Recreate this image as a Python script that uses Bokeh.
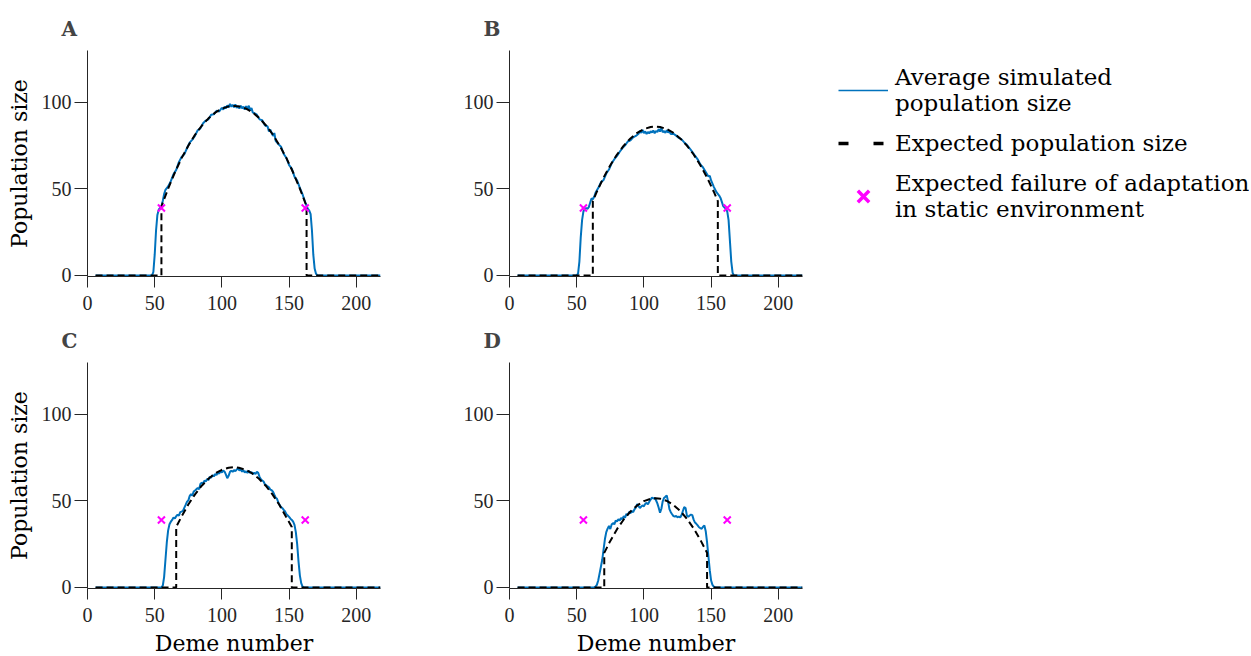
from bokeh.plotting import figure
from bokeh.layouts import row, column
from bokeh.models import Range1d, FixedTicker, Legend, LegendItem
from bokeh.embed import file_html
from bokeh.resources import INLINE

BLUE = "#0072BD"
MAGENTA = "#FF00FF"
INK = "#262626"
SERIF = "DejaVu Serif"
TICK_FONT = "Liberation Serif"

deme_ticks = [0, 50, 100, 150, 200]
pop_ticks = [0, 50, 100]

# demes where adaptation is expected to fail in a static environment
fail_x = [55, 162]
fail_y = [39, 39]

# (deme, mean simulated population size)
sim_a = [(6, 0), (48, 0), (49, 2), (50, 12), (51, 26), (52, 35), (53, 38), (54, 39), (55, 40),
         (56, 43), (57, 47), (58, 49.5), (60, 51.5), (62, 54.5), (64, 58.5), (66, 61), (68, 65.5),
         (70, 68.5), (72, 70), (74, 73.5), (76, 76.8), (78, 78.5), (80, 80.8), (82, 83.9), (84, 85),
         (86, 88), (88, 89.5), (90, 90.2), (92, 92.9), (94, 93.1), (96, 95.2), (98, 94.8),
         (100, 96.9), (101, 95.8), (102, 97.6), (103, 96.5), (104, 98.3), (105, 97.1), (106, 99.2),
         (107, 97.5), (108, 98.6), (109, 97.2), (110, 98.8), (111, 96.9), (112, 97.9), (113, 96.4),
         (114, 98.1), (115, 96.6), (116, 97.5), (117, 95.8), (118, 97.9), (119, 95.9), (120, 98.1),
         (121, 95.3), (122, 96.8), (123, 94.1), (124, 93.9), (126, 92.9), (128, 90.2), (130, 89.7),
         (132, 86.8), (134, 86.1), (135, 83.2), (136, 84.3), (138, 80.6), (139, 82.3), (140, 77.8),
         (142, 75.9), (144, 74.4), (146, 70.2), (148, 67.9), (150, 63.8), (152, 61.7), (154, 57.1),
         (156, 54.8), (158, 50.6), (160, 46.9), (161, 44.5), (162, 42.3), (163, 40.2), (164, 38.5),
         (165, 37.5), (166, 35.5), (167, 26), (168, 12), (169, 4), (170, 1), (171, 0), (218, 0)]

sim_b = [(6, 0), (50, 0), (51, 1), (52, 8), (53, 22), (54, 32), (55, 37), (56, 38.5), (57, 39),
         (58, 38.5), (59, 39.5), (60, 42), (61, 44.5), (62, 44), (63, 45.5), (64, 47.8), (66, 50.5),
         (68, 53.8), (70, 55.2), (72, 58.9), (74, 61.2), (76, 64.8), (78, 67.2), (80, 69.1),
         (82, 71.5), (84, 73.6), (86, 75.2), (88, 77.4), (90, 78.1), (92, 79.8), (94, 80.6),
         (96, 81.9), (97, 83.5), (98, 82.4), (99, 84.1), (100, 82.3), (101, 83.2), (102, 81.8),
         (103, 82.9), (104, 82.1), (105, 83.4), (106, 82.6), (107, 83.8), (108, 82.2), (109, 83.5),
         (110, 82.9), (111, 84.6), (112, 83.1), (113, 85.2), (114, 82.8), (115, 83.5), (116, 82.4),
         (117, 83.9), (118, 82.7), (119, 83.1), (120, 81.8), (122, 81.9), (124, 80.8), (126, 79.5),
         (128, 78.6), (130, 76.9), (132, 75.5), (134, 73.5), (136, 71.4), (138, 69.2), (140, 67.1),
         (142, 64.2), (144, 62.4), (146, 59.8), (148, 57.2), (149, 57.6), (150, 54.9), (152, 51.2),
         (154, 48.1), (156, 46.2), (157, 44.8), (158, 42.5), (159, 40.1), (160, 39.2), (161, 38.5),
         (162, 37), (163, 32), (164, 20), (165, 8), (166, 1.5), (167, 0), (218, 0)]

sim_c = [(6, 0), (55, 0), (56, 1), (57, 6), (58, 16), (59, 26), (60, 33), (61, 36.5), (62, 38),
         (63, 39), (64, 40.5), (65, 39.8), (66, 41.2), (67, 42), (68, 41.5), (69, 43.5), (70, 43.8),
         (71, 44.2), (72, 46), (73, 47.7), (74, 49.5), (75, 50.2), (76, 52.8), (77, 53.9), (78, 53.1),
         (79, 55.4), (80, 56), (82, 57.5), (83, 56.8), (84, 59.8), (85, 60.6), (86, 59.9), (87, 61.8),
         (88, 61.2), (89, 62.7), (90, 62.1), (91, 64), (92, 63.4), (93, 64.9), (94, 64.2), (95, 65.5),
         (96, 65), (97, 66.4), (98, 65.8), (99, 67.2), (100, 66.5), (101, 67.6), (102, 66.9),
         (103, 65.2), (104, 63.1), (105, 64.5), (106, 66.8), (107, 67.5), (108, 66.8), (109, 67.9),
         (110, 67.2), (111, 68.1), (112, 68.9), (113, 67.6), (114, 68.4), (115, 66.9), (116, 67.8),
         (117, 66.4), (118, 67.1), (119, 66.2), (120, 67.5), (121, 66.1), (122, 66.7), (123, 65.5),
         (124, 66.3), (125, 65.6), (126, 66.8), (127, 66.2), (128, 63.9), (129, 62.5), (130, 61.8),
         (131, 61.2), (132, 59.6), (133, 59.1), (134, 58.4), (135, 57.9), (136, 56.6), (137, 56.2),
         (138, 55.4), (139, 53.6), (140, 51.9), (141, 51.2), (142, 49.1), (143, 47.6), (144, 46.5),
         (145, 45.8), (146, 44.8), (147, 43.9), (148, 42.4), (149, 41.6), (150, 40.8), (151, 39.8),
         (152, 39), (153, 38), (154, 36.2), (155, 32), (156, 25), (157, 15), (158, 7), (159, 2.5),
         (160, 0.5), (161, 0), (218, 0)]

sim_d = [(6, 0), (63, 0), (64, 0.5), (65, 1.5), (66, 4), (67, 8), (68, 12), (69, 16), (70, 22),
         (71, 28), (72, 32), (73, 34), (74, 35.5), (75, 33.8), (76, 36.4), (77, 37.2), (78, 36.5),
         (79, 38.6), (80, 38.2), (81, 39.4), (82, 38.7), (83, 40.1), (84, 39.5), (85, 41.2),
         (86, 40.3), (87, 42.5), (88, 41.8), (89, 43.6), (90, 42.9), (91, 44.1), (92, 43.5),
         (93, 45.2), (94, 46.1), (95, 48.2), (96, 47), (97, 45.9), (98, 46.8), (99, 47.4), (100, 46.9),
         (101, 48.3), (102, 48.9), (103, 48.1), (104, 49.5), (105, 50.8), (106, 51.9), (107, 51.4),
         (108, 51.8), (109, 50.4), (110, 48.6), (111, 46.1), (112, 43.2), (113, 45.5), (114, 49.8),
         (115, 51.7), (116, 52.4), (117, 53.2), (118, 49.6), (119, 45.3), (120, 43.5), (121, 42.3),
         (122, 41.2), (123, 40.9), (124, 41.3), (125, 40.6), (126, 40.9), (127, 40.5), (128, 41.8),
         (129, 44.2), (130, 46.4), (131, 45.9), (132, 41.5), (133, 40.8), (134, 41.6), (135, 42.1),
         (136, 41.8), (137, 39.2), (138, 37.5), (139, 36.8), (140, 35.9), (141, 34.8), (142, 34.3),
         (143, 33.9), (144, 35.1), (145, 35.8), (146, 32.5), (147, 26), (148, 18), (149, 10),
         (150, 4), (151, 1.5), (152, 0.5), (153, 0), (218, 0)]

# (deme, expected population size)
exp_a = [(6, 0), (55, 0), (55, 40), (60, 50.2), (65, 59.5), (70, 67.8), (75, 75.0), (80, 81.3),
         (85, 86.5), (90, 90.8), (95, 94.1), (100, 96.4), (105, 97.7), (109, 98), (113, 97.7),
         (118, 96.4), (123, 94.1), (128, 90.8), (133, 86.5), (138, 81.3), (143, 75.0), (148, 67.8),
         (153, 59.5), (158, 50.2), (163, 40), (163, 0), (218, 0)]

exp_b = [(6, 0), (62, 0), (62, 43), (65, 48.4), (70, 56.6), (75, 63.7), (80, 69.9), (85, 75.0),
         (90, 79.2), (95, 82.4), (100, 84.6), (105, 85.8), (108.5, 86), (112, 85.8), (117, 84.6),
         (122, 82.4), (127, 79.2), (132, 75.0), (137, 69.9), (142, 63.7), (147, 56.6), (152, 48.4),
         (155, 43), (155, 0), (218, 0)]

exp_c = [(6, 0), (66, 0), (66, 35), (70, 41.0), (75, 47.9), (80, 53.8), (85, 58.8), (90, 62.8),
         (95, 65.9), (100, 68.0), (105, 69.2), (108.8, 69.5), (112.6, 69.2), (117.6, 68.0),
         (122.6, 65.9), (127.6, 62.8), (132.6, 58.8), (137.6, 53.8), (142.6, 47.9), (147.6, 41.0),
         (152, 35), (152, 0), (218, 0)]

exp_d = [(6, 0), (70.5, 0), (70.5, 20), (75, 26.9), (80, 33.7), (85, 39.3), (90, 43.9), (95, 47.4),
         (100, 49.9), (105, 51.2), (108.7, 51.5), (112.4, 51.2), (117.4, 49.9), (122.4, 47.4),
         (127.4, 43.9), (132.4, 39.3), (137.4, 33.7), (142.4, 26.9), (147, 20), (147, 0), (218, 0)]


def split(pairs):
    xs, ys = zip(*pairs)
    return list(xs), list(ys)


def panel(letter, sim, exp, left, right, top, bottom, ylabel, xlabel):
    p = figure(frame_width=293, frame_height=226,
               x_range=Range1d(0, 218), y_range=Range1d(-0.6, 130),
               output_backend="svg", toolbar_location=None,
               min_border_left=left, min_border_right=right,
               min_border_top=top, min_border_bottom=bottom, title=letter)
    p.outline_line_color = None
    p.grid.visible = False

    # panel letter, set out to the left of the axes corner
    p.title.text_font = SERIF
    p.title.text_font_style = "bold"
    p.title.text_font_size = "20px"
    p.title.align = "left"
    p.title.offset = -26
    p.title.standoff = 20

    p.xaxis.ticker = FixedTicker(ticks=deme_ticks)
    p.yaxis.ticker = FixedTicker(ticks=pop_ticks)
    for ax in (p.xaxis[0], p.yaxis[0]):
        ax.axis_line_color = INK
        ax.major_tick_line_color = INK
        ax.major_tick_in = 0
        ax.minor_tick_line_color = None
        ax.major_label_text_font = TICK_FONT
        ax.major_label_text_font_size = "20px"
        ax.major_label_text_color = INK
        ax.axis_label_text_font = SERIF
        ax.axis_label_text_font_size = "22px"
        ax.axis_label_text_font_style = "normal"
        ax.axis_label_text_color = "black"
    p.xaxis.major_tick_out = 11
    p.yaxis.major_tick_out = 13
    p.xaxis.major_label_standoff = 8
    p.yaxis.major_label_standoff = 3
    p.xaxis.axis_label_standoff = 6
    p.yaxis.axis_label_standoff = 7
    if ylabel:
        p.yaxis.axis_label = ylabel
    if xlabel:
        p.xaxis.axis_label = xlabel

    sx, sy = split(sim)
    ex, ey = split(exp)
    p.line(sx, sy, line_color=BLUE, line_width=2)
    p.line(ex, ey, line_color="black", line_width=2, line_dash="7 4")
    p.scatter(fail_x, fail_y, marker="x", size=10, line_color=MAGENTA, line_width=2)
    return p


pa = panel("A", sim_a, exp_a, 87, 40, 50, 40, "Population size", None)
pb = panel("B", sim_b, exp_b, 89, 22, 50, 40, None, None)
pc = panel("C", sim_c, exp_c, 87, 40, 46, 68, "Population size", "Deme number")
pd = panel("D", sim_d, exp_d, 89, 36, 46, 68, None, "Deme number")

# key panel to the right of the top row; its sample renderers sit outside its view
key = figure(width=425, height=316, output_backend="svg", toolbar_location=None,
             x_range=Range1d(-2, -1), y_range=Range1d(-2, -1),
             x_axis_location=None, y_axis_location=None,
             min_border_left=0, min_border_right=0, min_border_bottom=40, min_border_top=50)
key.outline_line_color = None
key.grid.visible = False
bx, by = split(sim_b)
gx, gy = split(exp_b)
k_sim = key.line(bx, by, line_color=BLUE, line_width=1.5)
k_exp = key.line(gx, gy, line_color="black", line_width=3.5, line_dash="10 25")
k_fail = key.scatter(fail_x, fail_y, marker="x", line_color=MAGENTA, line_width=3.5)
legend = Legend(items=[
    LegendItem(label="Average simulated\npopulation size", renderers=[k_sim]),
    LegendItem(label="Expected population size", renderers=[k_exp]),
    LegendItem(label="Expected failure of adaptation\nin static environment", renderers=[k_fail]),
], location="top_left")
legend.margin = 14
legend.padding = 0
legend.border_line_color = None
legend.background_fill_alpha = 0
legend.glyph_width = 50
legend.glyph_height = 40
legend.spacing = 7
legend.label_standoff = 7
legend.label_text_font = SERIF
legend.label_text_font_size = "23px"
legend.label_text_line_height = 0.88
legend.label_text_color = "black"
key.add_layout(legend)

layout = column(row(pa, pb, key), row(pc, pd))

with open("out.html", "w") as f:
    f.write(file_html(layout, INLINE))
